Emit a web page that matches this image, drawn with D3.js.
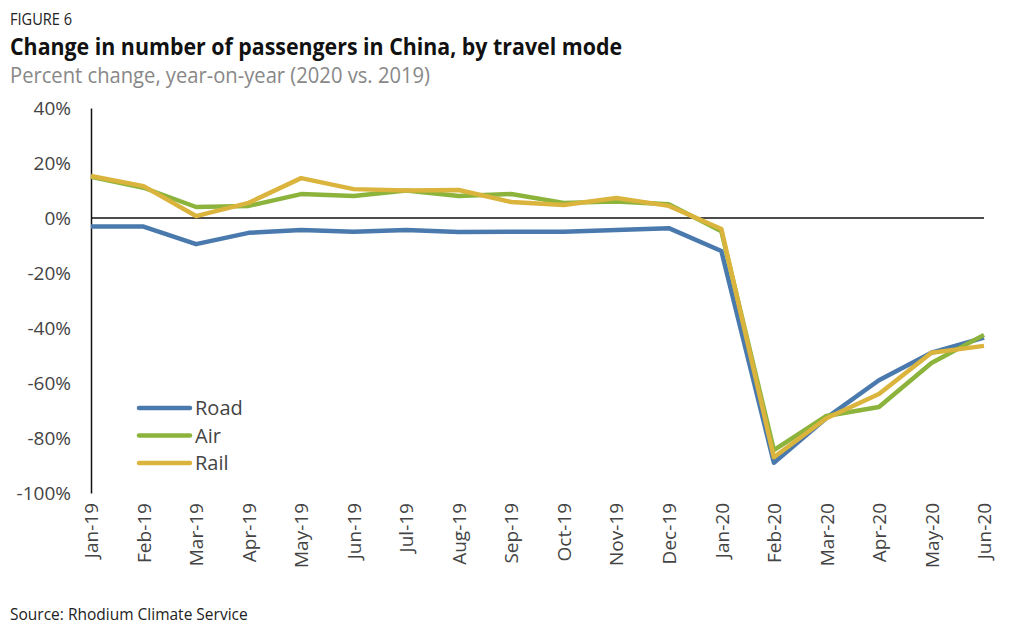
<!DOCTYPE html>
<html><head><meta charset="utf-8">
<script src="https://cdn.jsdelivr.net/npm/d3@7"></script>
<style>body{margin:0;background:#fff;} svg{display:block;}</style>
</head><body>
<svg id="c" width="1024" height="642"></svg>
<script>
const months = ["Jan-19","Feb-19","Mar-19","Apr-19","May-19","Jun-19","Jul-19","Aug-19","Sep-19","Oct-19","Nov-19","Dec-19","Jan-20","Feb-20","Mar-20","Apr-20","May-20","Jun-20"];
const road = [-3.1,-3.1,-9.5,-5.4,-4.4,-5.0,-4.4,-5.1,-5.0,-5.0,-4.4,-3.7,-12,-89,-72.7,-59,-49,-43.5];
const air  = [15,11,4,4.4,8.7,8,10,8,8.7,5.5,6,5,-4.8,-84.4,-72,-68.7,-52.7,-42.5];
const rail = [15.3,11.6,0.7,5.5,14.5,10.5,10,10.2,5.8,4.7,7.3,4.4,-4,-87,-72.8,-64,-49,-46.5];
const yTicks = [40,20,0,-20,-40,-60,-80,-100];
const seriesNames = ["Road","Air","Rail"];
const colors = ["#4a79ad","#8cb43c","#dab43c"];

const svg = d3.select("#c");
const font = "'Open Sans', sans-serif";
const x = d3.scalePoint().domain(months).range([91,984]);
const y = d3.scaleLinear().domain([-100,40]).range([493,108]);

svg.append("text").attr("x",10).attr("y",25).attr("font-family",font).attr("font-size",17).attr("fill","#222")
  .attr("textLength",62).attr("lengthAdjust","spacingAndGlyphs").text("FIGURE 6");
svg.append("text").attr("x",10).attr("y",55).attr("font-family",font).attr("font-weight",700).attr("font-size",24).attr("fill","#111")
  .attr("textLength",612).attr("lengthAdjust","spacingAndGlyphs").text("Change in number of passengers in China, by travel mode");
svg.append("text").attr("x",10).attr("y",83).attr("font-family",font).attr("font-size",21).attr("fill","#888")
  .attr("textLength",420).attr("lengthAdjust","spacingAndGlyphs").text("Percent change, year-on-year (2020 vs. 2019)");

// y axis
const ya = svg.append("g").attr("transform","translate(91,0)")
  .call(d3.axisLeft(y).tickValues(yTicks).tickSize(0).tickPadding(20).tickFormat(d=>d+"%"));
ya.select(".domain").attr("stroke","#111").attr("stroke-width",1.5);
ya.selectAll("text").attr("font-family",font).attr("font-size",19).attr("fill","#444");

// zero line
svg.append("line").attr("x1",91).attr("x2",984).attr("y1",y(0)).attr("y2",y(0)).attr("stroke","#111").attr("stroke-width",1.3);

// x axis labels
const xa = svg.append("g").attr("transform","translate(0,"+y(-100)+")")
  .call(d3.axisBottom(x).tickSize(0).tickPadding(0));
xa.select(".domain").remove();
xa.selectAll("text").attr("font-family",font).attr("font-size",19).attr("fill","#444")
  .attr("transform","rotate(-90)").attr("text-anchor","end").attr("dy","0.35em").attr("x",-10).attr("y",0);

const data = [road, air, rail];
const line = d3.line().x((d,i)=>x(months[i])).y(d=>y(d));
data.forEach((s,k)=>{
  svg.append("path").datum(s).attr("d",line).attr("fill","none")
    .attr("stroke",colors[k]).attr("stroke-width",4.5).attr("stroke-linejoin","round");
});

// legend
const lg = svg.append("g");
seriesNames.forEach((n,k)=>{
  const ly = 408 + k*27.5;
  lg.append("line").attr("x1",139).attr("x2",190).attr("y1",ly).attr("y2",ly).attr("stroke",colors[k]).attr("stroke-width",4.5).attr("stroke-linecap","round");
  lg.append("text").attr("x",195).attr("y",ly).attr("dy","0.35em").attr("font-family",font).attr("font-size",20).attr("fill","#444").text(n);
});

svg.append("text").attr("x",10).attr("y",620).attr("font-family",font).attr("font-size",15.5).attr("fill","#222").text("Source: Rhodium Climate Service");
</script>
</body></html>
